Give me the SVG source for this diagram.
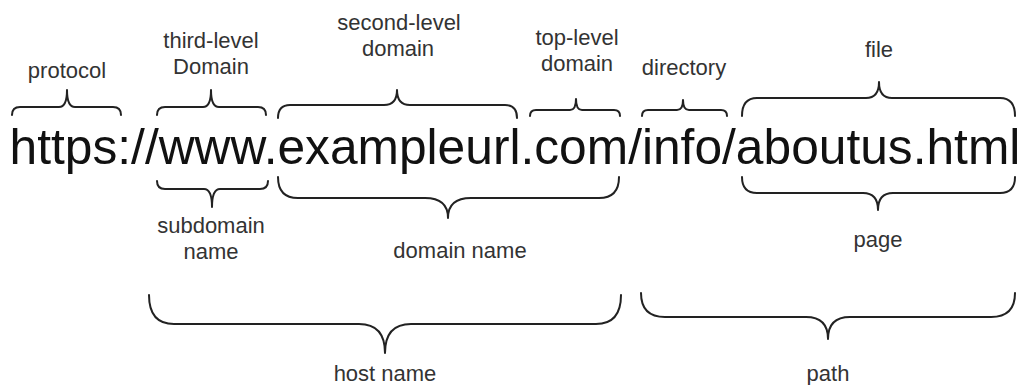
<svg xmlns="http://www.w3.org/2000/svg" width="1021" height="385" viewBox="0 0 1021 385">
<style>
.url{font-family:"Liberation Sans",Arial,sans-serif;font-size:49.7px;fill:#111}
.lbl{font-family:"Liberation Sans",Arial,sans-serif;font-size:22px;fill:#333;text-anchor:middle}
.br{fill:none;stroke:#222;stroke-width:2;stroke-linejoin:round;stroke-linecap:round}
</style>
<rect width="1021" height="385" fill="#fff"/>
<g id="url"><text class="url" x="9.6" y="164">https://www.exampleurl.com/info/aboutus.html</text></g>
<g id="connectors">
<path class="br" d="M12,115 Q12,107 20,107 L59,107 Q67,107 67,90 Q67,107 75,107 L113,107 Q121,107 121,115"/>
<path class="br" d="M157,115 Q157,107 165,107 L203,107 Q211,107 211,90 Q211,107 219,107 L258,107 Q266,107 266,115"/>
<path class="br" d="M278,118 Q278,105 290,105 L384,105 Q397,105 397,90 Q397,105 410,105 L505,105 Q517,105 517,118"/>
<path class="br" d="M530,116 Q530,110 536,110 L570,110 Q576,110 576,99 Q576,110 582,110 L614,110 Q620,110 620,116"/>
<path class="br" d="M642,116 Q642,110 648,110 L677,110 Q683,110 683,100 Q683,110 689,110 L721,110 Q727,110 727,116"/>
<path class="br" d="M742,116 Q742,98 757,98 L866,98 Q879,98 879,82 Q879,98 892,98 L1000,98 Q1015,98 1015,116"/>
<path class="br" d="M157,181 Q157,189 165,189 L204,189 Q212,189 212,207 Q212,189 220,189 L260,189 Q268,189 268,181"/>
<path class="br" d="M278,177 Q278,198 298,198 L425,198 Q448,198 448,218 Q448,198 471,198 L599,198 Q619,198 619,177"/>
<path class="br" d="M742,177 Q742,193 757,193 L863,193 Q878,193 878,210 Q878,193 893,193 L1000,193 Q1015,193 1015,177"/>
<path class="br" d="M149,295 Q149,324 174,324 L359,324 Q385,324 385,353 Q385,324 411,324 L596,324 Q621,324 621,295"/>
<path class="br" d="M641,293 Q641,317 665,317 L806,317 Q828,317 828,339 Q828,317 850,317 L991,317 Q1015,317 1015,293"/>
</g>
<g id="protocol"><text class="lbl" x="67" y="78">protocol</text></g>
<g id="third-level"><text class="lbl" x="211" y="48">third-level</text><text class="lbl" x="211" y="74">Domain</text></g>
<g id="second-level"><text class="lbl" x="399" y="30">second-level</text><text class="lbl" x="398" y="56">domain</text></g>
<g id="top-level"><text class="lbl" x="577" y="45">top-level</text><text class="lbl" x="577" y="71">domain</text></g>
<g id="directory"><text class="lbl" x="684" y="75">directory</text></g>
<g id="file"><text class="lbl" x="879" y="57">file</text></g>
<g id="subdomain"><text class="lbl" x="211" y="233">subdomain</text><text class="lbl" x="211" y="259">name</text></g>
<g id="domain-name"><text class="lbl" x="460" y="258">domain name</text></g>
<g id="page"><text class="lbl" x="878" y="247">page</text></g>
<g id="host-name"><text class="lbl" x="385" y="381">host name</text></g>
<g id="path"><text class="lbl" x="828" y="381">path</text></g>
</svg>
